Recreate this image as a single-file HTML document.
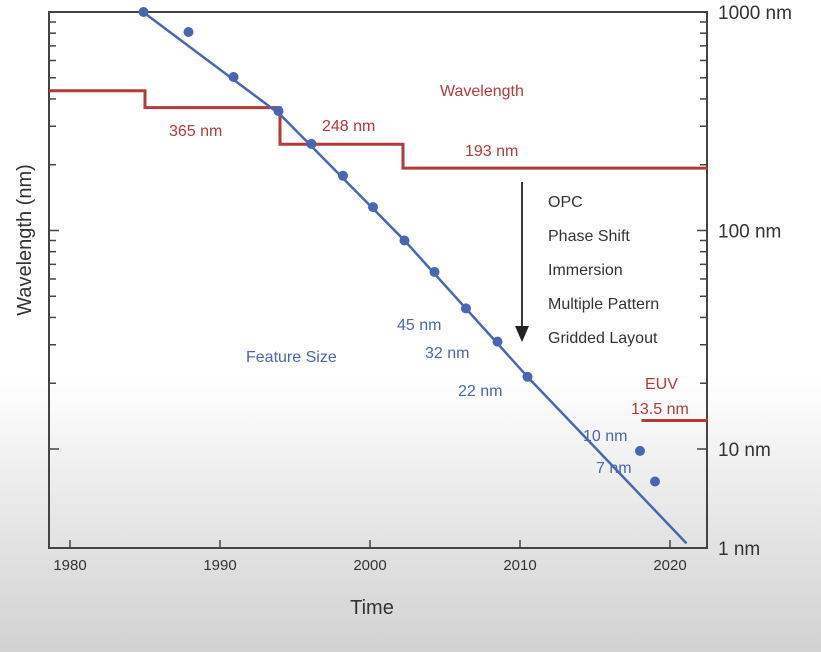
<!DOCTYPE html>
<html><head><meta charset="utf-8"><style>
html,body{margin:0;padding:0;width:821px;height:652px;overflow:hidden;background:linear-gradient(to bottom,#fff 0%,#fff 58%,#e6e6e6 80%,#d2d2d2 100%);}
svg{display:block;font-family:"Liberation Sans",sans-serif;}
</style></head><body>
<svg id="chart" width="821" height="652"></svg>
<script>
const stepYears=[1978.6,1985,1994,2002.2,2022.5];
const stepValues=[436,365,248,193];
const euvYears=[2018.1,2022.5];
const euvValue=13.5;
const dotYears=[1984.9,1987.9,1990.9,1993.9,1996.1,1998.2,2000.2,2002.3,2004.3,2006.4,2008.5,2010.5,2018,2019];
const dotValues=[1000,810,504,352,249,178,128,90,64.6,44,31,21.4,9.8,7.1];
const trendYears=[1984.7,1994,2002.3,2010.5,2021.1];
const trendValues=[1020,340,90,21.4,3.7];
const xTicks=[1980,1990,2000,2010,2020];
const yLabels=["1000 nm","100 nm","10 nm"];
const yLabelValues=[1000,100,10];

const L=49,R=707,T=12,B=548;
const X=y=>70+(y-1980)*15;
const Y=v=>12+(3-Math.log10(v))*218.5;
const NS="http://www.w3.org/2000/svg";
const svg=document.getElementById('chart');
function mk(tag,attrs,text){const e=document.createElementNS(NS,tag);for(const k in attrs)e.setAttribute(k,attrs[k]);if(text!==undefined)e.textContent=text;svg.appendChild(e);return e;}
const red="#b23a3a",blue="#4a66b0",ax="#444";

// axes box
let e=mk('rect',{x:L,y:T,width:R-L,height:B-T,fill:'none',stroke:ax,'stroke-width':2});


// y ticks
for(let d=10;d<=1000;d*=10){for(let m=1;m<=9;m++){const v=d*m/10*10;if(v<10||v>1000)continue;
 const yy=Y(v),len=(m===1)?10:7;
 e=mk('line',{x1:L,x2:L+len,y1:yy,y2:yy,stroke:ax,'stroke-width':1.5});
 
 e=mk('line',{x1:R,x2:R-len,y1:yy,y2:yy,stroke:ax,'stroke-width':1.5});
 }}
yLabels.forEach((t,i)=>{e=mk('text',{x:R+11,y:Y(yLabelValues[i])+7,'font-size':19,fill:'#333'},t);
 });
e=mk('text',{x:R+11,y:B+7,'font-size':19,fill:'#333'},'1 nm');


// x ticks
xTicks.forEach(t=>{e=mk('line',{x1:X(t),x2:X(t),y1:B,y2:B-8,stroke:ax,'stroke-width':1.5});
 
 e=mk('text',{x:X(t),y:B+22,'font-size':15,fill:'#333','text-anchor':'middle'},String(t));
 });

e=mk('text',{x:372,y:614,'font-size':20,fill:'#333','text-anchor':'middle'},'Time');

e=mk('text',{x:0,y:0,'font-size':20,fill:'#333','text-anchor':'middle',transform:'translate(31,240) rotate(-90)'},'Wavelength (nm)');


// wavelength steps
let p='';stepValues.forEach((v,i)=>{p+=(i?'L':'M')+X(stepYears[i])+' '+Y(v)+' L'+X(stepYears[i+1])+' '+Y(v);});
e=mk('path',{d:p,fill:'none',stroke:red,'stroke-width':3});

e=mk('line',{x1:X(euvYears[0]),x2:X(euvYears[1]),y1:Y(euvValue),y2:Y(euvValue),stroke:red,'stroke-width':3});


// trend
e=mk('polyline',{points:trendYears.map((t,i)=>X(t)+','+Y(trendValues[i])).join(' '),fill:'none',stroke:blue,'stroke-width':2.5});

dotYears.forEach((t,i)=>{e=mk('circle',{cx:X(t),cy:Y(dotValues[i]),r:5,fill:blue});
 });

// labels
const lab=(x,y,t,c,n,s)=>{e=mk('text',{x:x,y:y,'font-size':s||16,fill:c},t);};
lab(440,96,'Wavelength',red,'wavelength-label');
lab(169,136,'365 nm',red,'label-365nm');
lab(322,131,'248 nm',red,'label-248nm');
lab(465,156,'193 nm',red,'label-193nm');
lab(645,389,'EUV',red,'label-euv');
lab(631,414,'13.5 nm',red,'label-13-5nm');
lab(246,362,'Feature Size',blue,'feature-size-label');
lab(397,330,'45 nm',blue,'label-45nm');
lab(425,358,'32 nm',blue,'label-32nm');
lab(458,396,'22 nm',blue,'label-22nm');
lab(583,441,'10 nm',blue,'label-10nm');
lab(596,473,'7 nm',blue,'label-7nm');
['OPC','Phase Shift','Immersion','Multiple Pattern','Gridded Layout'].forEach((t,i)=>lab(548,207+i*34,t,'#333','technique-label',16));
e=mk('line',{x1:522,x2:522,y1:182,y2:328,stroke:'#222','stroke-width':1.8});

e=mk('polygon',{points:'515,326 529,326 522,342',fill:'#222'});

</script>
</body></html>
